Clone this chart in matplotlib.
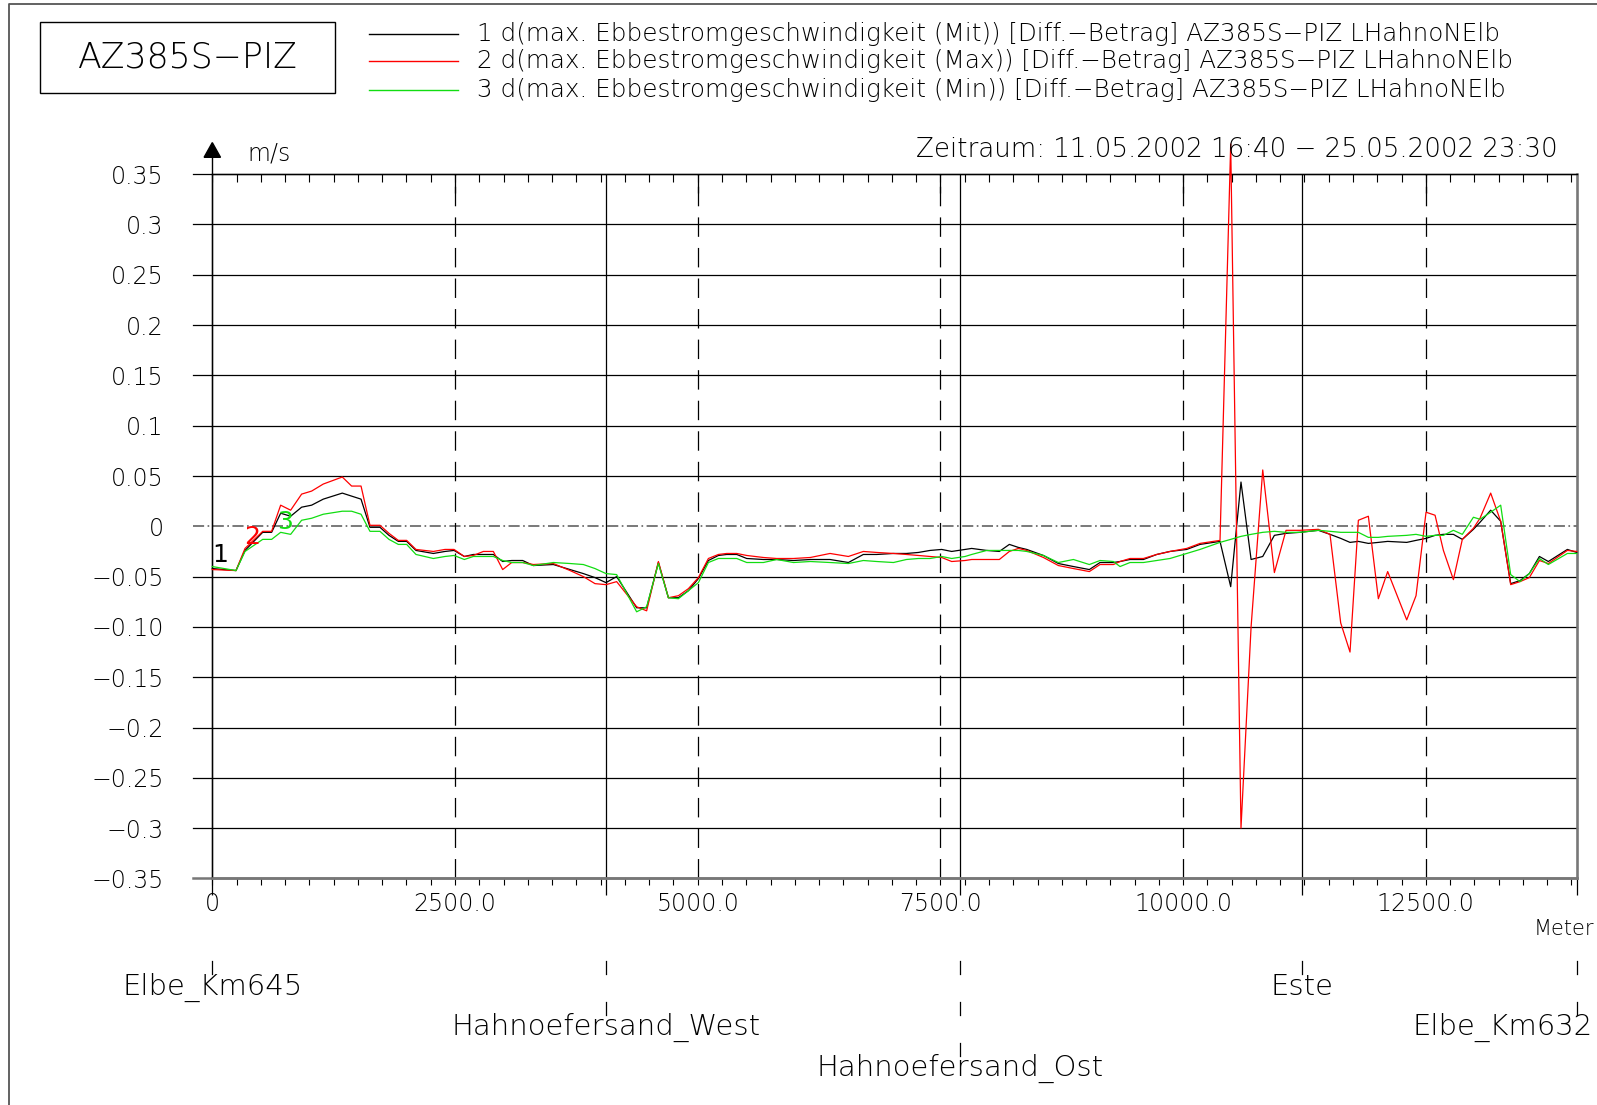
import numpy as np
import matplotlib.pyplot as plt
import matplotlib.transforms as mtransforms
from matplotlib.lines import Line2D
from matplotlib.patches import Rectangle, Polygon

plt.rcParams['font.family'] = ['DejaVu Sans']
plt.rcParams['font.weight'] = 'light'
plt.rcParams['lines.scale_dashes'] = False

# Entfernung entlang der Elbe [m]
dist_m = [0, 244, 337, 519, 611, 704, 807, 920, 1023, 1143, 1339, 1435, 1532, 1624, 1727,
          1820, 1916, 2002, 2098, 2277, 2397, 2490, 2596, 2689, 2792, 2895, 2991, 3084,
          3197, 3307, 3513, 3685, 3822, 3942, 4055, 4165, 4371, 4474, 4595, 4698, 4801,
          4904, 5007, 5110, 5213, 5299, 5402, 5505, 5677, 5814, 5986, 6160, 6363, 6552,
          6706, 6844, 7016, 7150, 7273, 7393, 7513, 7616, 7754, 7822, 7977, 8107, 8210,
          8303, 8389, 8561, 8715, 8870, 9034, 9144, 9282, 9350, 9453, 9591, 9728, 9865,
          10037, 10174, 10380, 10490, 10596, 10700, 10820, 10940, 11060, 11204, 11393,
          11513, 11623, 11719, 11805, 11908, 12011, 12107, 12303, 12399, 12502, 12595,
          12681, 12784, 12876, 12990, 13058, 13168, 13271, 13374, 13470, 13566, 13670,
          13762, 13958, 14054]

# 1: Mit
d_mit = [-0.042, -0.044, -0.024, -0.006, -0.006, 0.013, 0.010, 0.019, 0.021, 0.027, 0.033,
         0.030, 0.027, -0.001, -0.001, -0.009, -0.015, -0.015, -0.024, -0.027, -0.025,
         -0.024, -0.030, -0.028, -0.028, -0.028, -0.035, -0.034, -0.034, -0.039, -0.038,
         -0.043, -0.047, -0.051, -0.056, -0.050, -0.081, -0.081, -0.036, -0.071, -0.071,
         -0.064, -0.052, -0.034, -0.029, -0.028, -0.028, -0.032, -0.033, -0.033, -0.034,
         -0.033, -0.033, -0.036, -0.028, -0.028, -0.027, -0.027, -0.026, -0.024, -0.023,
         -0.025, -0.023, -0.022, -0.024, -0.025, -0.018, -0.021, -0.023, -0.029, -0.037,
         -0.040, -0.043, -0.036, -0.036, -0.035, -0.033, -0.033, -0.028, -0.025, -0.023,
         -0.018, -0.015, -0.060, 0.044, -0.033, -0.030, -0.009, -0.007, -0.006, -0.004,
         -0.008, -0.012, -0.016, -0.015, -0.017, -0.016, -0.015, -0.016, -0.014, -0.012,
         -0.009, -0.008, -0.008, -0.013, -0.003, 0.004, 0.016, 0.005, -0.057, -0.054,
         -0.047, -0.030, -0.035, -0.023, -0.026]

# 2: Max
d_max = [-0.043, -0.044, -0.022, -0.005, -0.005, 0.021, 0.016, 0.032, 0.035, 0.042, 0.049,
         0.040, 0.040, 0.001, 0.001, -0.007, -0.014, -0.014, -0.023, -0.025, -0.023,
         -0.023, -0.030, -0.029, -0.025, -0.025, -0.043, -0.036, -0.036, -0.038, -0.037,
         -0.044, -0.050, -0.057, -0.058, -0.055, -0.080, -0.084, -0.035, -0.071, -0.069,
         -0.062, -0.051, -0.032, -0.028, -0.027, -0.027, -0.029, -0.031, -0.032, -0.032,
         -0.031, -0.027, -0.030, -0.025, -0.026, -0.027, -0.028, -0.029, -0.030, -0.031,
         -0.035, -0.034, -0.033, -0.033, -0.033, -0.025, -0.022, -0.024, -0.031, -0.039,
         -0.042, -0.045, -0.038, -0.038, -0.035, -0.032, -0.032, -0.028, -0.025, -0.022,
         -0.017, -0.014, 0.380, -0.300, -0.100, 0.056, -0.046, -0.004, -0.004, -0.003,
         -0.008, -0.096, -0.125, 0.006, 0.010, -0.072, -0.045, -0.093, -0.069, 0.014,
         0.011, -0.024, -0.053, -0.013, -0.002, 0.008, 0.033, 0.005, -0.058, -0.055,
         -0.051, -0.034, -0.037, -0.024, -0.025]

# 3: Min
d_min = [-0.040, -0.044, -0.025, -0.013, -0.013, -0.006, -0.008, 0.006, 0.008, 0.012, 0.015,
         0.015, 0.012, -0.005, -0.005, -0.013, -0.018, -0.018, -0.028, -0.032, -0.030,
         -0.029, -0.033, -0.030, -0.030, -0.030, -0.034, -0.036, -0.036, -0.039, -0.036,
         -0.037, -0.038, -0.042, -0.047, -0.048, -0.085, -0.080, -0.037, -0.071, -0.072,
         -0.064, -0.056, -0.036, -0.032, -0.032, -0.032, -0.036, -0.036, -0.033, -0.036,
         -0.035, -0.036, -0.037, -0.034, -0.035, -0.036, -0.033, -0.032, -0.032, -0.030,
         -0.032, -0.030, -0.028, -0.024, -0.024, -0.024, -0.024, -0.025, -0.029, -0.036,
         -0.033, -0.038, -0.034, -0.035, -0.040, -0.036, -0.036, -0.034, -0.032, -0.027,
         -0.023, -0.016, -0.013, -0.010, -0.008, -0.006, -0.005, -0.006, -0.006, -0.004,
         -0.005, -0.006, -0.006, -0.006, -0.011, -0.011, -0.010, -0.009, -0.008, -0.010,
         -0.009, -0.009, -0.004, -0.008, 0.009, 0.007, 0.014, 0.021, -0.048, -0.055,
         -0.047, -0.032, -0.038, -0.027, -0.027]

series_labels = [
    "1 d(max. Ebbestromgeschwindigkeit (Mit)) [Diff.\u2212Betrag] AZ385S\u2212PIZ LHahnoNElb",
    "2 d(max. Ebbestromgeschwindigkeit (Max)) [Diff.\u2212Betrag] AZ385S\u2212PIZ LHahnoNElb",
    "3 d(max. Ebbestromgeschwindigkeit (Min)) [Diff.\u2212Betrag] AZ385S\u2212PIZ LHahnoNElb",
]
curve_tags = ['1', '2', '3']
tag_x = [79, 406, 749]
tag_y = [-0.0285, -0.011, 0.0046]

y_ticks = [0.35, 0.3, 0.25, 0.2, 0.15, 0.1, 0.05, 0, -0.05, -0.10, -0.15, -0.2, -0.25, -0.3, -0.35]
y_tick_labels = ['0.35', '0.3', '0.25', '0.2', '0.15', '0.1', '0.05', '0', '\u22120.05', '\u22120.10',
                 '\u22120.15', '\u22120.2', '\u22120.25', '\u22120.3', '\u22120.35']
x_major = [0, 2500, 5000, 7500, 10000, 12500]
x_tick_labels = ['0', '2500.0', '5000.0', '7500.0', '10000.0', '12500.0']
x_max = 14054

station_names = ['Elbe_Km645', 'Hahnoefersand_West', 'Hahnoefersand_Ost', 'Este', 'Elbe_Km632']
station_pos = [0, 4055, 7700, 11225, 14054]
station_row = [1, 2, 3, 1, 2]

title = "AZ385S\u2212PIZ"
period = "Zeitraum: 11.05.2002 16:40 \u2212 25.05.2002 23:30"

colors = ['black', '#ff0000', '#11dd11']

W, H = 1597, 1105
def fx(px): return px / W
def fy(py): return 1 - py / H

fig = plt.figure(figsize=(W / 100, H / 100), dpi=100)
ax_l, ax_r, ax_t, ax_b = 212.3, 1576.7, 174.2, 878.4
ax = fig.add_axes([fx(ax_l), fy(ax_b), fx(ax_r) - fx(ax_l), fy(ax_t) - fy(ax_b)])
ax_h = ax_b - ax_t
ax.set_xlim(0, x_max)
ax.set_ylim(-0.35, 0.35)
ax.set_autoscale_on(False)

for s in ['left', 'top']:
    ax.spines[s].set_color('black')
    ax.spines[s].set_linewidth(1.0)
for s in ['bottom', 'right']:
    ax.spines[s].set_color('#777777')
    ax.spines[s].set_linewidth(1.8)

# horizontal grid lines
ext = -19 / (ax_r - ax_l)
for v in y_ticks:
    if v == 0:
        ax.axhline(v, xmin=ext, xmax=1, color='#555555', lw=1.1,
                   dashes=(8, 2.5, 1.2, 2.5), clip_on=False, zorder=1)
    elif v == -0.35:
        ax.axhline(v, xmin=ext, xmax=1, color='#777777', lw=1.8, clip_on=False)
    else:
        ax.axhline(v, xmin=ext, xmax=1, color='black', lw=0.9, clip_on=False, zorder=1)

ax.set_yticks(y_ticks, y_tick_labels)
ax.tick_params(axis='y', length=0, pad=35, labelsize=17)

ax.set_xticks(x_major, x_tick_labels)
ax.set_xticks(np.arange(0, x_max, 250), minor=True)
ax.tick_params(axis='x', which='both', direction='out', length=5, width=0.8, color='black',
               labelsize=17, pad=5)

# top ticks
bt = mtransforms.blended_transform_factory(ax.transData, ax.transAxes)
ax.vlines(np.arange(0, x_max, 250), 1 - 7.7 / ax_h, 1, transform=bt, color='black', lw=0.8)
ax.vlines(x_major[1:], 1 - 18.7 / ax_h, 1, transform=bt, color='black', lw=0.9)

# dashed verticals
for xv in x_major[1:]:
    ax.axvline(xv, color='black', lw=0.9, dashes=(14, 8), zorder=1)

# station lines
ax.vlines(station_pos, -17 / ax_h, 1, transform=bt, color='black', lw=0.9, clip_on=False, zorder=1)

# curves
for yv, c in zip([d_mit, d_max, d_min], colors):
    ax.plot(dist_m, yv, color=c, lw=0.9, clip_on=False, zorder=3)
for t, xv, yv, c in zip(curve_tags, tag_x, tag_y, colors):
    ax.text(xv, yv, t, color=c, fontsize=18, fontweight='normal', ha='center', va='center', zorder=4)

# y axis arrow and unit
fig.lines.append(Line2D([fx(ax_l), fx(ax_l)], [fy(ax_t), fy(156)], color='black', lw=1.0,
                        transform=fig.transFigure))
fig.patches.append(Polygon([[fx(212.3), fy(142.6)], [fx(204.1), fy(157.3)], [fx(220.5), fy(157.3)]],
                           closed=True, facecolor='black', edgecolor='black', transform=fig.transFigure))
fig.text(fx(247.5), fy(153.8), 'm/s', fontsize=17, ha='left', va='center')

# title box
fig.patches.append(Rectangle((fx(40), fy(92.7)), fx(335) - fx(40), fy(22.4) - fy(92.7),
                             fill=False, edgecolor='black', lw=1.0, transform=fig.transFigure))
fig.text(fx(187.5), fy(57.5), title, fontsize=25, ha='center', va='center')

# legend
for i, (lab, c) in enumerate(zip(series_labels, colors)):
    yy = [33.6, 61.1, 89.6][i]
    fig.lines.append(Line2D([fx(368.7), fx(458.3)], [fy(yy), fy(yy)], color=c, lw=1.0,
                            transform=fig.transFigure))
    fig.text(fx(476.7), fy(yy), lab, fontsize=17.7, ha='left', va='center')

fig.text(fx(1558), fy(149.7), period, fontsize=18.8, ha='right', va='center')
fig.text(fx(1594), fy(929), 'Meter', fontsize=15, ha='right', va='center')

# stations below
bf = mtransforms.blended_transform_factory(ax.transData, fig.transFigure)
for name, p, row in zip(station_names, station_pos, station_row):
    for k in range(row):
        tk = 961 + 41 * k
        fig.lines.append(Line2D([p, p], [fy(tk), fy(tk + 13)], transform=bf, color='black', lw=0.9))
    ly = 987 + 40.7 * (row - 1)
    if p == station_pos[-1]:
        fig.text(fx(1593), fy(ly), name, fontsize=21, ha='right', va='center')
    else:
        fig.text(p, fy(ly), name, transform=bf, fontsize=21, ha='center', va='center')

# outer frame
fig.lines.append(Line2D([fx(8.7), fx(8.7), fx(W)], [fy(H), fy(4.3), fy(4.3)], color='#555555', lw=1.3,
                        transform=fig.transFigure))

fig.savefig('out.png', dpi=100)
